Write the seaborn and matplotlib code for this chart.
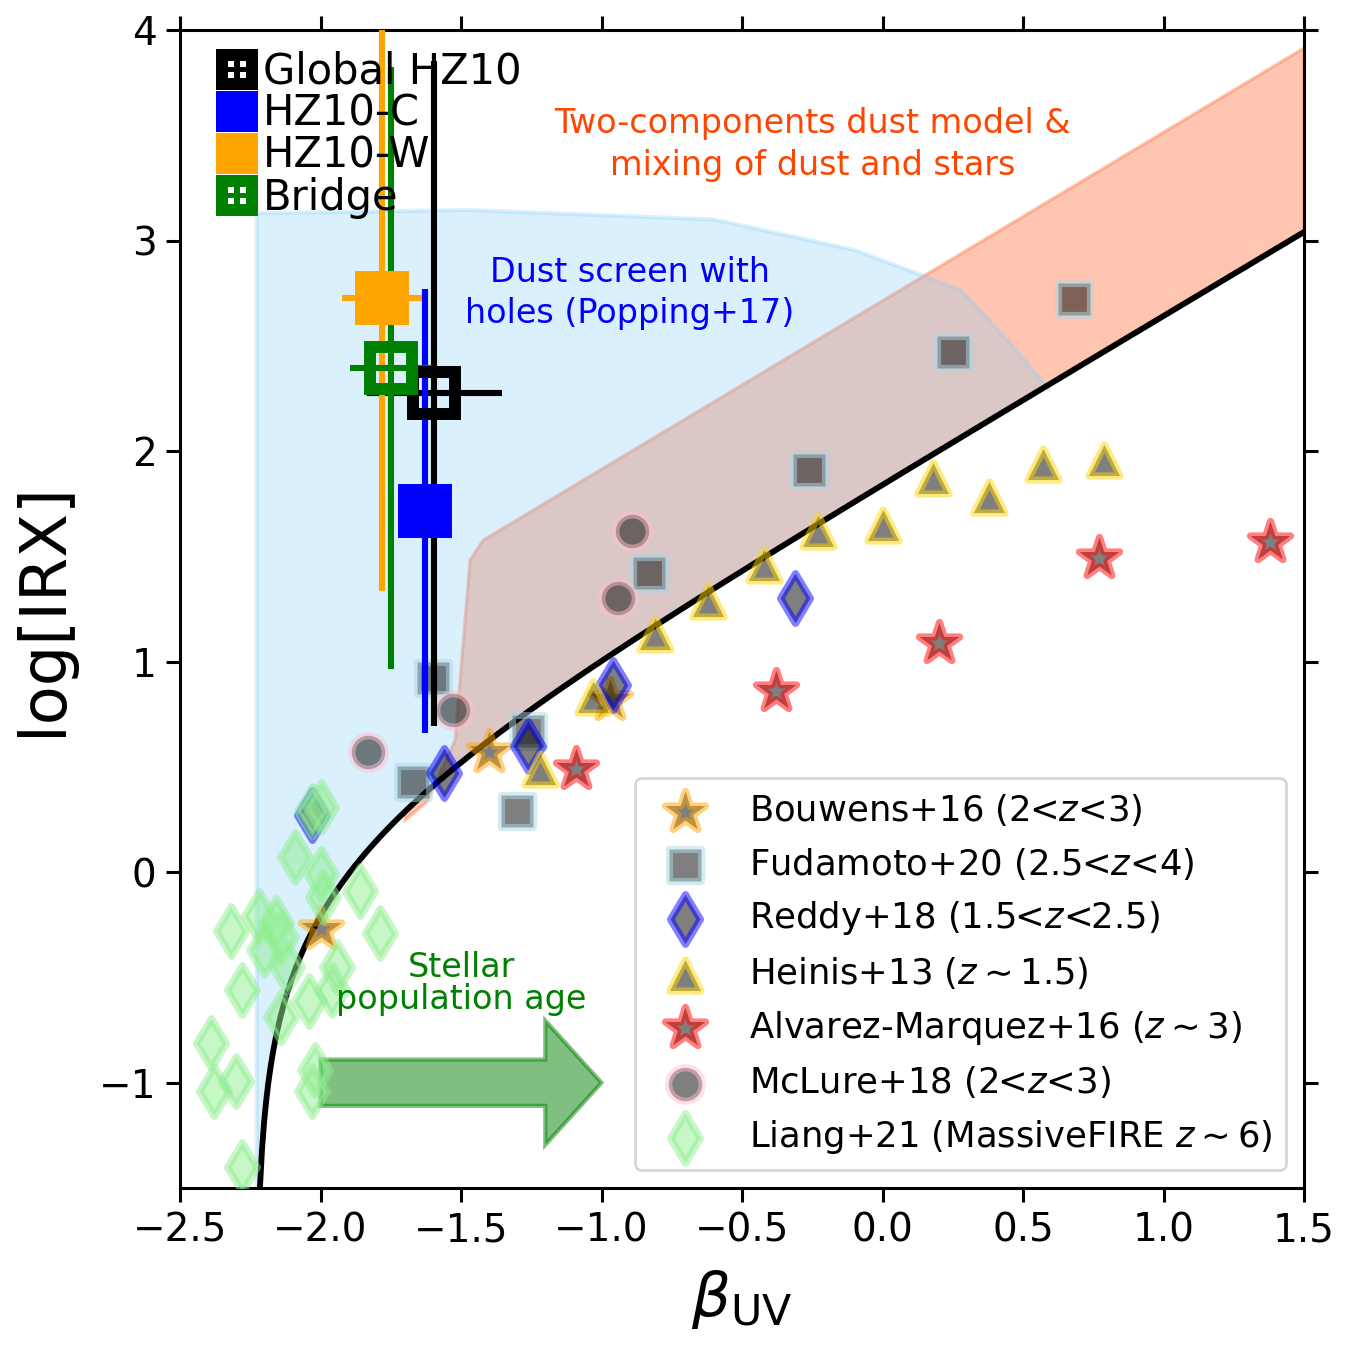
import numpy as np
import pandas as pd
import matplotlib
matplotlib.use("Agg")
import matplotlib.pyplot as plt
import seaborn as sns
from matplotlib.patches import Rectangle, Patch
from matplotlib.legend_handler import HandlerBase

# ---------------- data ----------------
# literature samples (beta_UV, log IRX)
bouwens_beta = [-2.00, -1.40, -0.97]
bouwens_irx = [-0.27, 0.57, 0.82]
fudamoto_beta = [0.68, 0.25, -0.26, -0.83, -1.26, -1.30, -1.60, -1.67]
fudamoto_irx = [2.72, 2.47, 1.91, 1.42, 0.67, 0.29, 0.92, 0.43]
reddy_beta = [-0.31, -0.96, -1.26, -1.56, -2.03]
reddy_irx = [1.30, 0.89, 0.60, 0.47, 0.27]
heinis_beta = [0.79, 0.57, 0.38, 0.18, 0.00, -0.23, -0.42, -0.62, -0.81, -1.03, -1.22]
heinis_irx = [1.96, 1.94, 1.78, 1.87, 1.65, 1.62, 1.46, 1.29, 1.13, 0.83, 0.49]
alvarez_beta = [1.38, 0.77, 0.20, -0.38, -1.09]
alvarez_irx = [1.57, 1.49, 1.09, 0.86, 0.49]
mclure_beta = [-0.89, -0.94, -1.53, -1.83]
mclure_irx = [1.62, 1.30, 0.77, 0.57]
liang_beta = [-2.03, -2.00, -2.09, -2.00, -1.99, -1.86, -2.32, -2.22, -2.16, -2.20,
              -2.14, -1.79, -2.28, -2.12, -1.94, -2.04, -2.14, -1.96, -2.39, -2.38,
              -2.30, -2.02, -2.03, -2.28]
liang_irx = [0.29, 0.31, 0.07, -0.01, -0.12, -0.09, -0.28, -0.21, -0.24, -0.37,
             -0.31, -0.29, -0.56, -0.45, -0.45, -0.61, -0.69, -0.56, -0.81, -1.04,
             -0.99, -0.94, -1.04, -1.40]

# HZ10 measurements
hz_names = ["Global HZ10", "HZ10-C", "HZ10-W", "Bridge"]
hz_beta = [-1.595, -1.627, -1.781, -1.749]
hz_irx = [2.274, 1.715, 2.727, 2.394]
hz_beta_err = [0.24, 0.0, 0.142, 0.145]
hz_irx_err = [1.58, 1.055, 1.39, 1.43]

# model curve parameters: IRX = C (10^(0.4 k (beta - beta0)) - 1)
curve_C = 1.18
curve_k = 1.99
curve_beta0 = -2.23

# dust-screen-with-holes region (upper boundary)
screen_beta = [-2.227, -2.227, -1.47, -0.60, -0.10, 0.28, 0.45, 0.59]
screen_irx = [-1.60, 3.13, 3.145, 3.10, 2.955, 2.765, 2.52, 2.30]
# two-component region (upper boundary)
twocomp_beta = [-1.699, -1.622, -1.521, -1.468, -1.421, 1.50]
twocomp_irx = [0.247, 0.334, 0.627, 1.482, 1.577, 3.914]

# ---------------- style ----------------
sns.set_style("ticks")
plt.rcParams.update({
    "font.family": ["DejaVu Sans"],
    "axes.edgecolor": "black", "xtick.color": "black", "ytick.color": "black",
    "text.color": "black", "axes.labelcolor": "black",
    "axes.linewidth": 1.1,
})

fig = plt.figure(figsize=(6.75, 6.75), dpi=200)
ax = fig.add_axes([180 / 1350, 1 - 1188 / 1350, 1124 / 1350, 1158 / 1350])


def model(b):
    b = np.asarray(b, dtype=float)
    return np.log10(curve_C * (10 ** (0.4 * curve_k * (b - curve_beta0)) - 1))


# shaded regions
b_low = np.linspace(1.5, -1.70, 200)
tc_x = list(twocomp_beta) + list(b_low)
tc_y = list(twocomp_irx) + list(model(b_low))
ax.fill(tc_x, tc_y, color="coral", alpha=0.45, lw=1.2, zorder=1)

b_low2 = np.linspace(screen_beta[-1], -2.2145, 300)
sc_x = list(screen_beta) + list(b_low2) + [-2.2145]
sc_y = list(screen_irx) + list(model(b_low2)) + [-1.6]
ax.fill(sc_x, sc_y, color="lightskyblue", alpha=0.3, lw=1.5, zorder=1)

# model curve
bc = np.linspace(-2.2156, 1.5, 500)
sns.lineplot(x=bc, y=model(bc), color="black", lw=2.1, ax=ax, zorder=2,
             estimator=None, sort=True)

# literature samples
lw = 2.6
samples = [
    (bouwens_beta, bouwens_irx, "*", "orange", "black", r"Bouwens+16 (2<$z$<3)"),
    (fudamoto_beta, fudamoto_irx, "s", "lightblue", "black", r"Fudamoto+20 (2.5<$z$<4)"),
    (reddy_beta, reddy_irx, "d", "blue", "black", r"Reddy+18 (1.5<$z$<2.5)"),
    (heinis_beta, heinis_irx, "^", "gold", "black", r"Heinis+13 ($z\sim$1.5)"),
    (alvarez_beta, alvarez_irx, "*", "red", "black", r"Alvarez-Marquez+16 ($z\sim$3)"),
    (mclure_beta, mclure_irx, "o", "pink", "black", r"McLure+18 (2<$z$<3)"),
    (liang_beta, liang_irx, "d", "lightgreen", "lightgreen", r"Liang+21 (MassiveFIRE $z\sim$6)"),
]
sizes = {"*": 230, "s": 140, "d": 160, "^": 125, "o": 145}
for bx, by, mk, ec, fc, lab in samples:
    sns.scatterplot(x=bx, y=by, marker=mk, s=sizes[mk], color=fc, edgecolor=ec,
                    linewidth=lw, alpha=0.5, ax=ax, zorder=3, label=lab)

# stellar population age arrow
ax.arrow(-2.0, -1.0, 1.0, 0.0, width=0.22, head_width=0.59, head_length=0.2,
         length_includes_head=True, facecolor="green", edgecolor="green",
         alpha=0.5, lw=1.5, zorder=2)

# HZ10 measurements
hz_colors = ["black", "blue", "orange", "green"]
hz_open = [True, False, False, True]
for i in range(len(hz_names)):
    c = hz_colors[i]
    ax.errorbar(hz_beta[i], hz_irx[i], xerr=hz_beta_err[i] if hz_beta_err[i] > 0 else None,
                yerr=hz_irx_err[i], fmt="s", ms=15, mew=4.3, color=c, mec=c,
                mfc="none" if hz_open[i] else c, elinewidth=2.2, capsize=0, zorder=5)

# annotations
ax.text(-0.25, 3.455, "Two-components dust model &\nmixing of dust and stars",
        color="orangered", fontsize=12, ha="center", va="center",
        linespacing=1.33, zorder=6)
ax.text(-0.90, 2.75, "Dust screen with\nholes (Popping+17)", color="blue",
        fontsize=12, ha="center", va="center", linespacing=1.33, zorder=6)
ax.text(-1.50, -0.53, "Stellar\npopulation age", color="green", fontsize=12,
        ha="center", va="center", linespacing=0.95, zorder=6)

ax.set_xlim(-2.5, 1.5)
ax.set_ylim(-1.5, 4)
ax.set_xticks(np.arange(-2.5, 1.51, 0.5))
ax.set_yticks([-1, 0, 1, 2, 3, 4])
ax.tick_params(top=True, right=True, direction="out", length=5, width=1.1,
               labelsize=14)
ax.set_xlabel(r"$\beta_{\rm UV}$", fontsize=22, labelpad=6.5)
ax.set_ylabel("log[IRX]", fontsize=23, labelpad=9)

# legend of literature samples
leg2 = ax.legend(loc="lower right", fontsize=12.75, labelspacing=0.5,
                 frameon=True, framealpha=0.8, edgecolor="0.8", fancybox=True)
leg2.set_zorder(7)


# legend of HZ10 components
class BlockHandler(HandlerBase):
    def create_artists(self, legend, orig_handle, xdescent, ydescent, width,
                       height, fontsize, trans):
        side = fontsize
        cx = -xdescent + width / 2
        cy = -ydescent + height / 2
        col = orig_handle.get_facecolor()
        arts = [Rectangle((cx - side / 2, cy - side / 2), side, side, facecolor=col,
                          edgecolor="none", transform=trans)]
        if orig_handle.get_gid() == "open":
            d = 0.14 * side
            for dx in (-1, 1):
                for dy in (-1, 1):
                    arts.append(Rectangle((cx + dx * d - d / 2, cy + dy * d - d / 2), d, d,
                                          facecolor="white", edgecolor="none",
                                          transform=trans))
        return arts


handles = []
for i in range(len(hz_names)):
    p = Patch(facecolor=hz_colors[i], label=hz_names[i])
    p.set_gid("open" if hz_open[i] else "filled")
    handles.append(p)
leg1 = ax.legend(handles=handles, loc="upper left", bbox_to_anchor=(0.032, 0.982),
                 borderaxespad=0, borderpad=0, frameon=False, fontsize=15,
                 labelspacing=0.0, handlelength=1.0, handleheight=1.0,
                 handletextpad=0.13, handler_map={Patch: BlockHandler()})
leg1.set_zorder(7)
ax.add_artist(leg2)

fig.savefig("out.png", dpi=200)
